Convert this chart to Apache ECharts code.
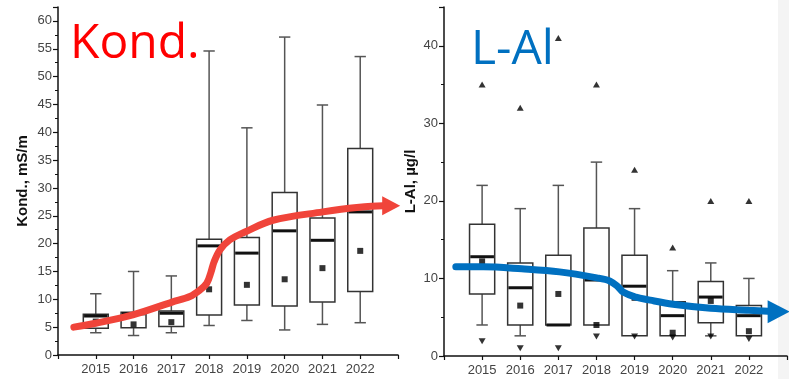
<!DOCTYPE html>
<html>
<head>
<meta charset="utf-8">
<script src="https://cdn.jsdelivr.net/npm/echarts@6/dist/echarts.min.js"></script>
<style>
  html, body { margin: 0; padding: 0; background: #fff; }
  #chart { width: 789px; height: 379px; }
</style>
</head>
<body>
<div id="chart"></div>
<script>
// Sampling years
const years = [2015, 2016, 2017, 2018, 2019, 2020, 2021, 2022];

// Conductivity (mS/m): whisker ends, quartiles, median and mean per year
const kondMin    = [4.0, 3.5, 4.0, 5.3, 6.2, 4.5, 5.5, 5.8];
const kondQ1     = [4.8, 4.9, 5.1, 7.2, 9.0, 8.8, 9.5, 11.4];
const kondMedian = [7.0, 7.4, 7.5, 19.6, 18.3, 22.3, 20.6, 25.7];
const kondQ3     = [7.3, 7.7, 7.9, 20.8, 21.1, 29.2, 24.6, 37.1];
const kondMax    = [11.0, 15.0, 14.2, 54.6, 40.8, 57.1, 44.9, 53.6];
const kondMean   = [6.0, 5.5, 5.9, 11.8, 12.6, 13.6, 15.6, 18.7];

// Labile aluminium (µg/l)
const alMin      = [4.0, 2.6, 4.0, 4.0, 2.6, 2.6, 2.6, 2.6];
const alQ1       = [8.0, 4.0, 4.0, 4.0, 2.6, 2.6, 4.3, 2.6];
const alMedian   = [12.8, 8.8, 4.0, 9.8, 9.0, 5.2, 7.6, 5.2];
const alQ3       = [17.0, 12.0, 13.0, 16.5, 13.0, 7.0, 9.6, 6.5];
const alMax      = [22.0, 19.0, 22.0, 25.0, 19.0, 11.0, 12.0, 10.0];
const alMean     = [12.2, 6.5, 8.0, 4.0, 7.5, 3.0, 7.1, 3.2];
const alOutHigh  = [35, 32, 41, 35, 24, 14, 20, 20];
const alOutLow   = [1.9, 1.0, 1.0, 2.5, 2.5, 2.4, 2.5, 2.2];

// Trend arrows, given as [year, value] points; the last point carries the head
const kondTrend = [
  [2014.42, 5.0], [2015.0, 5.7], [2015.98, 7.2], [2017.02, 9.5], [2017.49, 10.5],
  [2017.76, 11.7], [2017.94, 12.9], [2018.05, 14.9], [2018.13, 16.7], [2018.29, 18.9],
  [2018.55, 20.7], [2018.95, 22.1], [2019.69, 24.2], [2021.01, 25.7], [2021.91, 26.5],
  [2022.6, 26.8], [2022.82, 26.8]
];
const alTrend = [
  [2014.31, 11.5], [2015.03, 11.5], [2016.04, 11.24], [2017.03, 10.85], [2018.01, 10.08],
  [2018.36, 9.65], [2018.57, 8.9], [2018.7, 8.25], [2019.01, 7.62], [2019.41, 7.2],
  [2020.01, 6.68], [2021.0, 6.16], [2022.0, 5.9], [2022.5, 5.78], [2022.78, 5.72]
];

const FONT = 'Liberation Sans';
const BOX_WIDTH = 0.66;   // in years
const CAP_WIDTH = 0.3;

function boxData(mn, q1, md, q3, mx) {
  return years.map((y, i) => [y, mn[i], q1[i], md[i], q3[i], mx[i]]);
}
function pts(vals) {
  return years.map((y, i) => [y, vals[i]]);
}
function trendData(points) {
  return points.map((p, i) => i === points.length - 1
    ? { value: p, symbol: 'triangle', symbolRotate: -90 }
    : { value: p, symbol: 'none' });
}

function renderBox(params, api) {
  const x = api.value(0);
  const pMin = api.coord([x, api.value(1)]);
  const pQ1 = api.coord([x, api.value(2)]);
  const pMed = api.coord([x, api.value(3)]);
  const pQ3 = api.coord([x, api.value(4)]);
  const pMax = api.coord([x, api.value(5)]);
  const boxW = api.size([BOX_WIDTH, 0])[0];
  const capW = api.size([CAP_WIDTH, 0])[0];
  const cx = pMin[0];
  const whisker = { stroke: '#555', lineWidth: 1.5 };
  const children = [
    { type: 'line', shape: { x1: cx, y1: pQ3[1], x2: cx, y2: pMax[1] }, style: whisker },
    { type: 'line', shape: { x1: cx - capW / 2, y1: pMax[1], x2: cx + capW / 2, y2: pMax[1] }, style: whisker }
  ];
  if (pMin[1] - pQ1[1] > 0.5) {
    children.push(
      { type: 'line', shape: { x1: cx, y1: pMin[1], x2: cx, y2: pQ1[1] }, style: whisker },
      { type: 'line', shape: { x1: cx - capW / 2, y1: pMin[1], x2: cx + capW / 2, y2: pMin[1] }, style: whisker }
    );
  }
  children.push(
    { type: 'rect', shape: { x: cx - boxW / 2, y: pQ3[1], width: boxW, height: pQ1[1] - pQ3[1] },
      style: { fill: '#fff', stroke: '#333', lineWidth: 1.5 } },
    { type: 'line', shape: { x1: cx - boxW / 2 + 0.75, y1: pMed[1], x2: cx + boxW / 2 - 0.75, y2: pMed[1] },
      style: { stroke: '#111', lineWidth: 3 } }
  );
  return { type: 'group', children };
}

function xAxisFor(gridIndex) {
  return {
    type: 'value', gridIndex, min: 2014, max: 2023, interval: 1,
    axisLine: { onZero: false, lineStyle: { color: '#111', width: 1.5 } },
    axisTick: { inside: false, length: 4, lineStyle: { color: '#111', width: 1.2 } },
    axisLabel: {
      margin: 8, color: '#444', fontFamily: FONT, fontSize: 13,
      formatter: v => (v >= 2015 && v <= 2022) ? String(v) : ''
    },
    splitLine: { show: false }
  };
}
function yAxisFor(gridIndex, max, interval, name, nameGap) {
  return {
    type: 'value', gridIndex, min: 0, max, interval,
    name, nameLocation: 'middle', nameGap, nameRotate: 90,
    nameTextStyle: { color: '#111', fontFamily: FONT, fontWeight: 'bold', fontSize: 15 },
    axisLine: { show: true, onZero: false, lineStyle: { color: '#111', width: 1.5 } },
    axisTick: { show: true, inside: false, length: 5, lineStyle: { color: '#111', width: 1.2 } },
    minorTick: { show: true, splitNumber: 2, length: 3, lineStyle: { color: '#111', width: 1 } },
    axisLabel: {
      margin: 6, color: '#444', fontFamily: FONT, fontSize: 13, showMaxLabel: false,
      formatter: v => (v % interval === 0) ? String(v) : ''
    },
    splitLine: { show: false }
  };
}

const chart = echarts.init(document.getElementById('chart'), null, { renderer: 'canvas' });

chart.setOption({
  animation: false,
  backgroundColor: '#fff',
  grid: [
    { left: 58, right: 391, top: 7, bottom: 24, outerBoundsMode: 'none' },
    { left: 444, right: 2, top: 7, bottom: 23, outerBoundsMode: 'none' }
  ],
  xAxis: [xAxisFor(0), xAxisFor(1)],
  yAxis: [
    yAxisFor(0, 62.5, 5, 'Kond., mS/m', 28),
    yAxisFor(1, 45, 10, 'L-Al, µg/l', 26)
  ],
  graphic: [
    { type: 'rect', z: -10, left: 778, top: 0, shape: { width: 11, height: 379 }, style: { fill: '#f4f4f4' } },
    { type: 'text', z: 100, left: 70, top: 20,
      style: { text: 'Kond.', fill: '#ff0000', font: '48px "Open Sans"' } },
    { type: 'text', z: 100, left: 471, top: 26,
      style: { text: 'L-Al', fill: '#0070c0', font: '48px "Open Sans"' } }
  ],
  series: [
    { type: 'custom', xAxisIndex: 0, yAxisIndex: 0, renderItem: renderBox,
      data: boxData(kondMin, kondQ1, kondMedian, kondQ3, kondMax),
      encode: { x: 0, y: [1, 2, 3, 4, 5] }, z: 2 },
    { type: 'scatter', xAxisIndex: 0, yAxisIndex: 0, data: pts(kondMean),
      symbol: 'rect', symbolSize: 6, itemStyle: { color: '#000' }, z: 3 },
    { type: 'line', xAxisIndex: 0, yAxisIndex: 0, data: trendData(kondTrend),
      smooth: 0.35, symbolSize: [19, 18], lineStyle: { color: '#f0443a', width: 7, cap: 'round' },
      itemStyle: { color: '#f0443a' }, z: 5 },

    { type: 'custom', xAxisIndex: 1, yAxisIndex: 1, renderItem: renderBox,
      data: boxData(alMin, alQ1, alMedian, alQ3, alMax),
      encode: { x: 0, y: [1, 2, 3, 4, 5] }, z: 2 },
    { type: 'scatter', xAxisIndex: 1, yAxisIndex: 1, data: pts(alMean),
      symbol: 'rect', symbolSize: 6, itemStyle: { color: '#000' }, z: 3 },
    { type: 'scatter', xAxisIndex: 1, yAxisIndex: 1, data: pts(alOutHigh),
      symbol: 'triangle', symbolSize: [7, 6], itemStyle: { color: '#000' }, z: 3 },
    { type: 'scatter', xAxisIndex: 1, yAxisIndex: 1, data: pts(alOutLow),
      symbol: 'triangle', symbolRotate: 180, symbolSize: [7, 6], itemStyle: { color: '#000' }, z: 3 },
    { type: 'line', xAxisIndex: 1, yAxisIndex: 1, data: trendData(alTrend),
      smooth: 0.35, symbolSize: [23, 22], lineStyle: { color: '#0070c0', width: 7, cap: 'round' },
      itemStyle: { color: '#0070c0' }, z: 5 }
  ]
});
</script>
</body>
</html>
